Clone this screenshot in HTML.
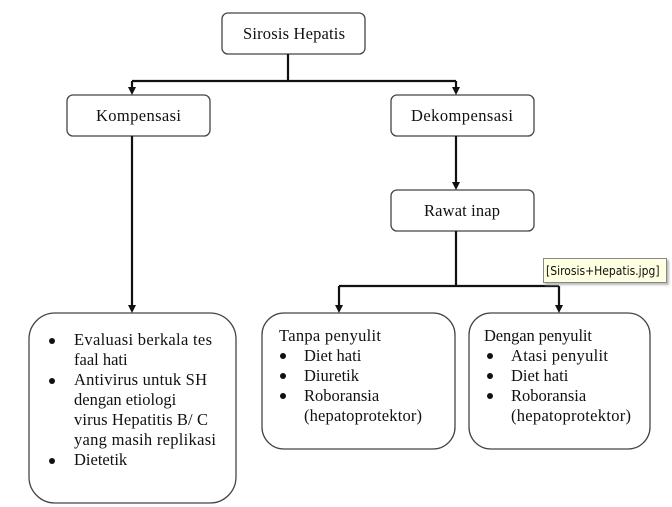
<!DOCTYPE html>
<html><head><meta charset="utf-8"><style>
body{margin:0;background:#fff;width:672px;height:507px;overflow:hidden;position:relative}
svg{position:absolute;left:0;top:0}
text{font-family:"Liberation Serif",serif;font-size:16.5px;fill:#111}
.tip{position:absolute;left:543px;top:258px;width:124px;height:25px;background:#ffffe1;border:1px solid #888;box-shadow:2px 2px 2px #bbb;font-family:"DejaVu Sans Condensed","Liberation Sans",sans-serif;font-size:12px;line-height:25px;padding-left:2px;box-sizing:border-box;color:#111}
</style></head><body>
<svg width="672" height="507" viewBox="0 0 672 507">
<g fill="#fff" stroke="#444" stroke-width="1.3">
<rect x="222" y="13" width="143" height="41" rx="6"/>
<rect x="67" y="95" width="143" height="41" rx="6"/>
<rect x="391" y="95" width="143" height="41" rx="6"/>
<rect x="391" y="190" width="143" height="41" rx="6"/>
<rect x="29" y="313" width="207" height="190" rx="26"/>
<rect x="262" y="313" width="193" height="136" rx="22"/>
<rect x="469" y="313" width="181" height="136" rx="22"/>
</g>
<g stroke="#111" stroke-width="2.2" fill="none">
<path d="M288 54V81M132 81H456"/>
<path d="M132 81V88M456 81V88M456 136V183M132 136V306M456 231V286M339 286H559M339 286V306M559 286V306"/>
</g>
<g fill="#111">
<polygon points="128,87 136,87 132,95"/>
<polygon points="452,87 460,87 456,95"/>
<polygon points="452,182 460,182 456,190"/>
<polygon points="128,305 136,305 132,313"/>
<polygon points="335,305 343,305 339,313"/>
<polygon points="555,305 563,305 559,313"/>
</g>
<text x="243" y="39" textLength="102">Sirosis Hepatis</text>
<text x="96" y="121" textLength="85">Kompensasi</text>
<text x="411" y="121" textLength="102">Dekompensasi</text>
<text x="424" y="216" textLength="76">Rawat inap</text>
<g fill="#111">
<circle cx="52" cy="341" r="3"/><circle cx="52" cy="381" r="3"/><circle cx="52" cy="461" r="3"/>
<circle cx="283" cy="356" r="3"/><circle cx="283" cy="376" r="3"/><circle cx="283" cy="396" r="3"/>
<circle cx="490" cy="356" r="3"/><circle cx="490" cy="376" r="3"/><circle cx="490" cy="396" r="3"/>
</g>
<text x="74" y="345" textLength="138">Evaluasi berkala tes</text>
<text x="74" y="365">faal hati</text>
<text x="74" y="385" textLength="133">Antivirus untuk SH</text>
<text x="74" y="405">dengan etiologi</text>
<text x="74" y="425" textLength="134">virus Hepatitis B/ C</text>
<text x="74" y="445" textLength="142">yang masih replikasi</text>
<text x="74" y="465">Dietetik</text>
<text x="279" y="341" textLength="102">Tanpa penyulit</text>
<text x="304" y="361">Diet hati</text>
<text x="304" y="381">Diuretik</text>
<text x="304" y="401">Roboransia</text>
<text x="304" y="421" textLength="118">(hepatoprotektor)</text>
<text x="484" y="341" textLength="108">Dengan penyulit</text>
<text x="511" y="361" textLength="97">Atasi penyulit</text>
<text x="511" y="381">Diet hati</text>
<text x="511" y="401">Roboransia</text>
<text x="511" y="421" textLength="120">(hepatoprotektor)</text>
</svg>
<div class="tip">[Sirosis+Hepatis.jpg]</div>
</body></html>
